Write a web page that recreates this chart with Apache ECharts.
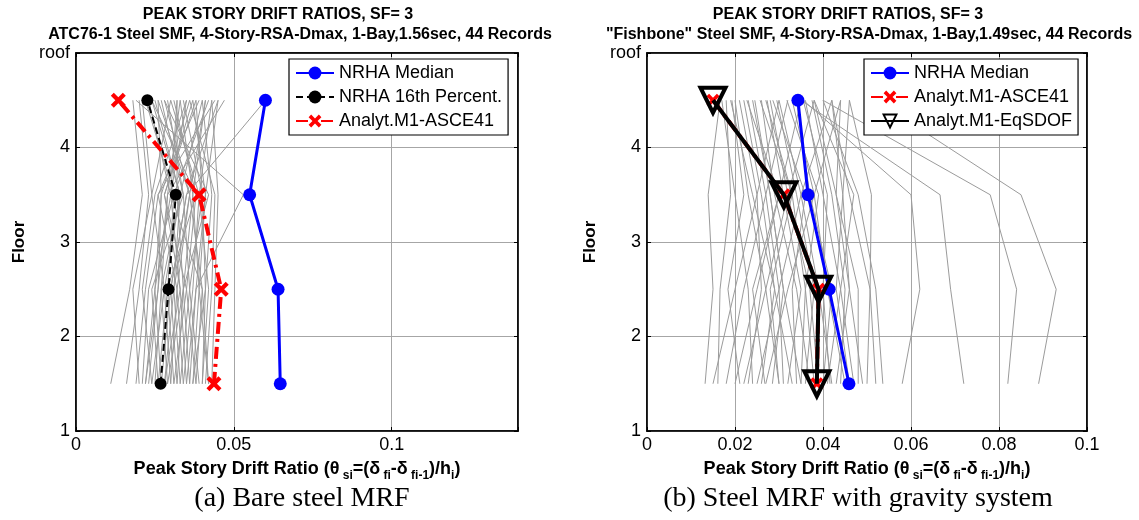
<!DOCTYPE html>
<html>
<head>
<meta charset="utf-8">
<script src="https://cdn.jsdelivr.net/npm/echarts@6/dist/echarts.min.js"></script>
<style>
html,body{margin:0;padding:0;background:#fff;}
#chart{width:1139px;height:520px;}
</style>
</head>
<body>
<div id="chart"></div>
<script>
// ---------- data ----------
const floors = [1.5, 2.5, 3.5, 4.5];
const yTickLabels = ['1', '2', '3', '4', 'roof'];
const xTicksA = [0, 0.05, 0.1];
const xTicksB = [0, 0.02, 0.04, 0.06, 0.08, 0.1];

// Panel (a): values listed at floors 1.5, 2.5, 3.5, 4.5
const medianA = [0.0647, 0.064, 0.055, 0.060];
const p16A = [0.0268, 0.0293, 0.0316, 0.0226];
const asceA = [0.0437, 0.046, 0.039, 0.0134];
const recordsA = [
  [0.011, 0.017, 0.021, 0.018], [0.016, 0.020, 0.023, 0.020], [0.020, 0.018, 0.024, 0.021],
  [0.022, 0.025, 0.030, 0.023], [0.024, 0.028, 0.033, 0.025], [0.026, 0.024, 0.034, 0.027],
  [0.028, 0.031, 0.036, 0.028], [0.031, 0.029, 0.038, 0.031], [0.032, 0.034, 0.032, 0.032],
  [0.033, 0.036, 0.040, 0.034], [0.035, 0.033, 0.030, 0.035], [0.036, 0.038, 0.041, 0.037],
  [0.038, 0.035, 0.028, 0.038], [0.040, 0.041, 0.043, 0.040], [0.042, 0.040, 0.036, 0.041],
  [0.043, 0.044, 0.045, 0.043], [0.030, 0.032, 0.026, 0.044], [0.027, 0.030, 0.035, 0.045],
  [0.025, 0.027, 0.029, 0.047], [0.035, 0.038, 0.053, 0.019], [0.032, 0.030, 0.035, 0.060],
  [0.021, 0.023, 0.031, 0.022], [0.023, 0.026, 0.027, 0.026], [0.029, 0.027, 0.033, 0.024],
  [0.034, 0.037, 0.039, 0.030], [0.037, 0.039, 0.037, 0.033], [0.039, 0.036, 0.034, 0.029],
  [0.041, 0.043, 0.044, 0.036], [0.019, 0.022, 0.026, 0.039], [0.026, 0.029, 0.031, 0.042],
  [0.031, 0.035, 0.038, 0.024], [0.036, 0.034, 0.042, 0.028], [0.038, 0.040, 0.030, 0.032],
  [0.028, 0.033, 0.028, 0.037], [0.024, 0.021, 0.025, 0.035], [0.033, 0.031, 0.033, 0.040],
  [0.040, 0.042, 0.039, 0.043], [0.030, 0.028, 0.024, 0.030], [0.022, 0.026, 0.029, 0.033],
  [0.027, 0.025, 0.027, 0.036], [0.034, 0.032, 0.036, 0.026], [0.037, 0.041, 0.040, 0.038],
  [0.042, 0.039, 0.041, 0.045], [0.029, 0.034, 0.037, 0.041]
];

// Panel (b)
const medianB = [0.0459, 0.0414, 0.0366, 0.0343];
const asceB = [0.0386, 0.039, 0.0311, 0.015];
const eqsdofB = [0.0386, 0.039, 0.0311, 0.015];
const recordsB = [
  [0.0132, 0.0150, 0.0139, 0.0166], [0.0161, 0.0166, 0.0190, 0.0180], [0.0211, 0.0184, 0.0220, 0.0193],
  [0.0230, 0.0260, 0.0250, 0.0210], [0.0268, 0.0240, 0.0300, 0.0227], [0.0285, 0.0310, 0.0280, 0.0245],
  [0.0300, 0.0280, 0.0330, 0.0257], [0.0320, 0.0350, 0.0310, 0.0273], [0.0340, 0.0330, 0.0360, 0.0286],
  [0.0360, 0.0380, 0.0340, 0.0295], [0.0380, 0.0360, 0.0390, 0.0318], [0.0400, 0.0420, 0.0370, 0.0340],
  [0.0416, 0.0400, 0.0410, 0.0355], [0.0440, 0.0450, 0.0420, 0.0375], [0.0460, 0.0430, 0.0445, 0.0420],
  [0.0480, 0.0480, 0.0430, 0.0440], [0.0500, 0.0507, 0.0510, 0.0460], [0.0536, 0.0520, 0.0480, 0.0400],
  [0.0150, 0.0200, 0.0250, 0.0300], [0.0180, 0.0220, 0.0270, 0.0320], [0.0200, 0.0250, 0.0300, 0.0350],
  [0.0220, 0.0270, 0.0320, 0.0380], [0.0250, 0.0300, 0.0350, 0.0420], [0.0270, 0.0320, 0.0380, 0.0440],
  [0.0300, 0.0270, 0.0230, 0.0200], [0.0330, 0.0290, 0.0260, 0.0220], [0.0350, 0.0310, 0.0280, 0.0240],
  [0.0370, 0.0340, 0.0290, 0.0260], [0.0390, 0.0370, 0.0320, 0.0280], [0.0420, 0.0390, 0.0350, 0.0300],
  [0.0450, 0.0410, 0.0380, 0.0330], [0.0470, 0.0440, 0.0400, 0.0360], [0.0490, 0.0460, 0.0430, 0.0380],
  [0.0240, 0.0230, 0.0200, 0.0170], [0.0260, 0.0290, 0.0240, 0.0190], [0.0310, 0.0300, 0.0270, 0.0230],
  [0.0350, 0.0360, 0.0330, 0.0270], [0.0430, 0.0460, 0.0445, 0.0460], [0.0520, 0.0507, 0.0460, 0.0420],
  [0.0410, 0.0440, 0.0470, 0.0380], [0.0720, 0.0690, 0.0666, 0.0350], [0.0820, 0.0840, 0.0780, 0.0400],
  [0.0890, 0.0930, 0.0850, 0.0520], [0.0580, 0.0620, 0.0600, 0.0355]
];

// ---------- helpers ----------
const toPts = vals => vals.map((v, i) => [v, floors[i]]);
const XSYM = 'path://M2,0 L5,3 L8,0 L10,2 L7,5 L10,8 L8,10 L5,7 L2,10 L0,8 L3,5 L0,2 Z';
const FONT = 'Liberation Sans, Arial, Helvetica, sans-serif';
const SERIF = 'Liberation Serif, Times New Roman, serif';
const GRIDC = '#a6a6a6';

function fmtTick(ticks) {
  return v => {
    for (const t of ticks) if (Math.abs(v - t) < 1e-9) return String(t);
    return '';
  };
}

const axisNameRich = {
  n: { fontFamily: FONT, fontSize: 18, fontWeight: 'bold', color: '#000', lineHeight: 22, verticalAlign: 'top' },
  s: { fontFamily: FONT, fontSize: 12, fontWeight: 'bold', color: '#000', lineHeight: 14, verticalAlign: 'bottom' }
};
const axisNameText = '{n|Peak Story Drift Ratio (θ}{s| si}{n|=(δ}{s| fi}{n|-δ}{s| fi-1}{n|)/h}{s|i}{n|)}';

function bottomX(gridIndex, max, interval, ticks) {
  return {
    type: 'value', gridIndex, min: 0, max, interval, position: 'bottom',
    axisLine: { show: true, onZero: false, lineStyle: { color: '#000', width: 1.5 } },
    axisTick: { show: true, inside: true, length: 4, lineStyle: { color: '#000' } },
    axisLabel: { formatter: fmtTick(ticks), color: '#000', fontFamily: FONT, fontSize: 18, margin: 5, showMaxLabel: true },
    splitLine: { show: true, lineStyle: { color: GRIDC, width: 1 } },
    name: axisNameText, nameLocation: 'middle', nameGap: 29,
    nameTextStyle: { rich: axisNameRich }
  };
}
function topX(gridIndex, max, interval) {
  return {
    type: 'value', gridIndex, min: 0, max, interval, position: 'top',
    axisLine: { show: true, onZero: false, lineStyle: { color: '#000', width: 1.5 } },
    axisTick: { show: true, inside: true, length: 4, lineStyle: { color: '#000' } },
    axisLabel: { show: false }, splitLine: { show: false }
  };
}
function leftY(gridIndex) {
  return {
    type: 'value', gridIndex, min: 1, max: 5, interval: 1, position: 'left',
    axisLine: { show: true, onZero: false, lineStyle: { color: '#000', width: 1.5 } },
    axisTick: { show: true, inside: true, length: 4, lineStyle: { color: '#000' } },
    axisLabel: { formatter: v => yTickLabels[Math.round(v) - 1] || '', color: '#000', fontFamily: FONT, fontSize: 18, margin: 6 },
    splitLine: { show: true, lineStyle: { color: GRIDC, width: 1 } },
    name: 'Floor', nameLocation: 'middle', nameGap: 48, nameRotate: 90,
    nameTextStyle: { fontFamily: FONT, fontSize: 17, fontWeight: 'bold', color: '#000' }
  };
}
function rightY(gridIndex) {
  return {
    type: 'value', gridIndex, min: 1, max: 5, interval: 1, position: 'right',
    axisLine: { show: true, onZero: false, lineStyle: { color: '#000', width: 1.5 } },
    axisTick: { show: true, inside: true, length: 4, lineStyle: { color: '#000' } },
    axisLabel: { show: false }, splitLine: { show: false }
  };
}

const series = [];
recordsA.forEach((r, i) => series.push({
  name: 'recA' + i, type: 'line', xAxisIndex: 0, yAxisIndex: 0, data: toPts(r),
  showSymbol: false, symbol: 'none', silent: true, z: 1,
  lineStyle: { color: '#9b9b9b', width: 1 }
}));
recordsB.forEach((r, i) => series.push({
  name: 'recB' + i, type: 'line', xAxisIndex: 1, yAxisIndex: 1, data: toPts(r),
  showSymbol: false, symbol: 'none', silent: true, z: 1,
  lineStyle: { color: '#9b9b9b', width: 1 }
}));

series.push({
  name: 'NRHA Median', type: 'line', xAxisIndex: 0, yAxisIndex: 0, data: toPts(medianA), z: 5,
  symbol: 'circle', symbolSize: 13, lineStyle: { color: '#0000ff', width: 3 }, itemStyle: { color: '#0000ff' }
});
series.push({
  name: 'NRHA 16th Percent.', type: 'line', xAxisIndex: 0, yAxisIndex: 0, data: toPts(p16A), z: 5,
  symbol: 'circle', symbolSize: 12, lineStyle: { color: '#000', width: 2, type: [7, 4] }, itemStyle: { color: '#000' }
});
series.push({
  name: 'Analyt.M1-ASCE41', type: 'line', xAxisIndex: 0, yAxisIndex: 0, data: toPts(asceA), z: 5,
  symbol: XSYM, symbolSize: 15, lineStyle: { color: '#ff0000', width: 4, type: [12, 5, 3, 5] }, itemStyle: { color: '#ff0000' }
});
series.push({
  name: 'NRHA Median', type: 'line', xAxisIndex: 1, yAxisIndex: 1, data: toPts(medianB), z: 5,
  symbol: 'circle', symbolSize: 13, lineStyle: { color: '#0000ff', width: 3 }, itemStyle: { color: '#0000ff' }
});
series.push({
  name: 'Analyt.M1-ASCE41', type: 'line', xAxisIndex: 1, yAxisIndex: 1, data: toPts(asceB), z: 6,
  symbol: XSYM, symbolSize: 13, lineStyle: { color: '#ff0000', width: 4, type: [12, 5, 3, 5] }, itemStyle: { color: '#ff0000' }
});
series.push({
  name: 'Analyt.M1-EqSDOF', type: 'line', xAxisIndex: 1, yAxisIndex: 1, data: toPts(eqsdofB), z: 7,
  symbol: 'triangle', symbolRotate: 180, symbolSize: 25,
  lineStyle: { color: '#000', width: 4 },
  itemStyle: { color: 'rgba(0,0,0,0)', borderColor: '#000', borderWidth: 4 }
});

const legendBase = {
  orient: 'vertical', backgroundColor: '#fff', borderColor: '#000', borderWidth: 1.2,
  padding: [5, 6, 5, 6], itemGap: 6, itemWidth: 38, itemHeight: 16,
  textStyle: { fontFamily: FONT, fontSize: 18, color: '#000', padding: [0, 0, 0, 0] },
  selectedMode: false, z: 10
};

const titleStyle = { fontFamily: FONT, fontSize: 16, fontWeight: 'bold', color: '#000' };
const capStyle = { fontFamily: SERIF, fontSize: 28, fontWeight: 'normal', color: '#000' };

const option = {
  animation: false,
  backgroundColor: '#fff',
  title: [
    { text: 'PEAK STORY DRIFT RATIOS, SF= 3', left: 273, top: 2, textAlign: 'center', textStyle: titleStyle },
    { text: 'ATC76-1 Steel SMF, 4-Story-RSA-Dmax, 1-Bay,1.56sec, 44 Records', left: 295, top: 22, textAlign: 'center', textStyle: titleStyle },
    { text: 'PEAK STORY DRIFT RATIOS, SF= 3', left: 843, top: 2, textAlign: 'center', textStyle: titleStyle },
    { text: '"Fishbone" Steel SMF, 4-Story-RSA-Dmax, 1-Bay,1.49sec, 44 Records', left: 864, top: 22, textAlign: 'center', textStyle: titleStyle },
    { text: '(a) Bare steel MRF', left: 297, top: 480, textAlign: 'center', textStyle: capStyle },
    { text: '(b) Steel MRF with gravity system', left: 853, top: 480, textAlign: 'center', textStyle: capStyle }
  ],
  grid: [
    { left: 76, top: 53, width: 442, height: 378, show: true, borderColor: '#000', borderWidth: 1.5, containLabel: false },
    { left: 647, top: 53, width: 440, height: 378, show: true, borderColor: '#000', borderWidth: 1.5, containLabel: false }
  ],
  xAxis: [
    bottomX(0, 0.14, 0.05, xTicksA),
    bottomX(1, 0.1, 0.02, xTicksB),
    topX(0, 0.14, 0.05),
    topX(1, 0.1, 0.02)
  ],
  yAxis: [leftY(0), leftY(1), rightY(0), rightY(1)],
  legend: [
    Object.assign({}, legendBase, { left: 289, top: 59, data: ['NRHA Median', 'NRHA 16th Percent.', 'Analyt.M1-ASCE41'] }),
    Object.assign({}, legendBase, { left: 864, top: 59, data: ['NRHA Median', 'Analyt.M1-ASCE41', 'Analyt.M1-EqSDOF'] })
  ],
  series
};

const chart = echarts.init(document.getElementById('chart'), null, { renderer: 'canvas' });
chart.setOption(option);
</script>
</body>
</html>
